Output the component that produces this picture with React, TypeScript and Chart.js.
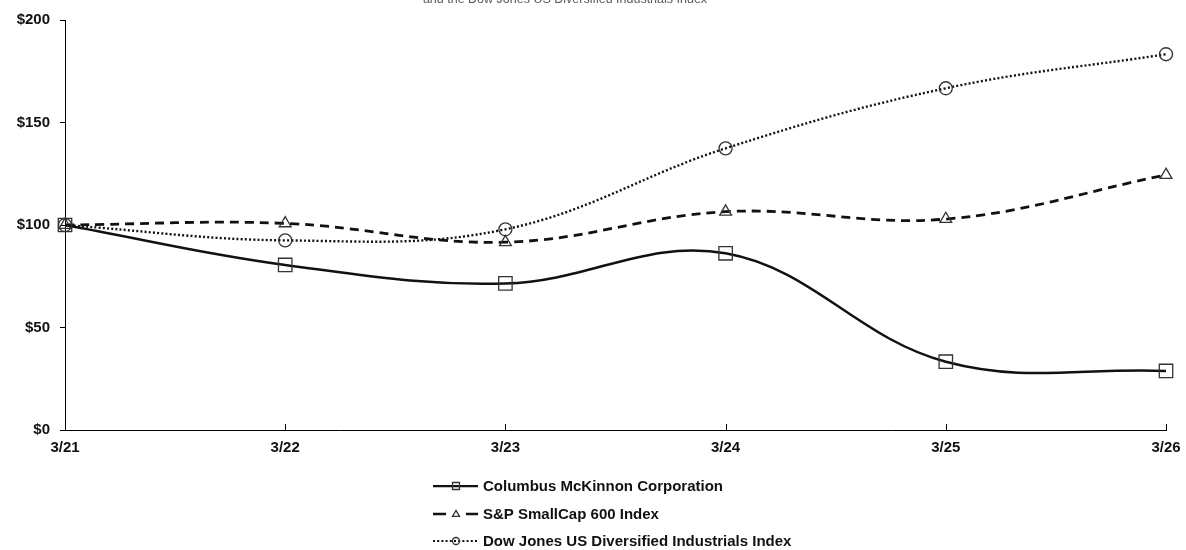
import React, { useEffect, useRef } from "react";
import { Chart, registerables } from "chart.js";

Chart.register(...registerables);

const categories = ["3/21", "3/22", "3/23", "3/24", "3/25", "3/26"];
const cmcoValues = [100, 80.5, 71.5, 86.2, 33.3, 28.8];
const spValues = [100, 100.8, 91.6, 106.5, 102.9, 124.4];
const dowValues = [100, 92.5, 97.9, 137.4, 166.7, 183.3];
const seriesNames = [
  "Columbus McKinnon Corporation",
  "S&P SmallCap 600 Index",
  "Dow Jones US Diversified Industrials Index",
];
const titleText = "and the Dow Jones US Diversified Industrials Index";

const FONT = '"Liberation Sans", Arial, sans-serif';
const LINE = "#111111";
const MARK = "#333333";

type Style = { dash: number[]; width: number; marker: string };
const styles: Style[] = [
  { dash: [], width: 2.5, marker: "rect" },
  { dash: [9, 6], width: 2.8, marker: "triangle" },
  { dash: [2, 2.2], width: 2.4, marker: "circle" },
];

function drawMarker(ctx: CanvasRenderingContext2D, kind: string, x: number, y: number, r: number) {
  ctx.save();
  ctx.setLineDash([]);
  ctx.strokeStyle = MARK;
  ctx.lineWidth = 1.3;
  ctx.beginPath();
  if (kind === "rect") {
    ctx.rect(x - r, y - r, 2 * r, 2 * r);
  } else if (kind === "triangle") {
    const h = r * 1.7;
    ctx.moveTo(x, y - h * 0.6);
    ctx.lineTo(x + r, y + h * 0.4);
    ctx.lineTo(x - r, y + h * 0.4);
    ctx.closePath();
  } else {
    ctx.arc(x, y, r, 0, Math.PI * 2);
  }
  ctx.stroke();
  ctx.restore();
}

const extrasPlugin = {
  id: "extras",
  afterDraw(chart: any) {
    const ctx: CanvasRenderingContext2D = chart.ctx;
    const area = chart.chartArea;
    const xs = chart.scales.x;
    // inward x ticks
    ctx.save();
    ctx.strokeStyle = "#000";
    ctx.lineWidth = 1;
    categories.forEach((_, i) => {
      const x = Math.round(xs.getPixelForValue(i)) + 0.5;
      ctx.beginPath();
      ctx.moveTo(x, area.bottom);
      ctx.lineTo(x, area.bottom - 6);
      ctx.stroke();
    });
    ctx.restore();

    // clipped title
    ctx.save();
    ctx.fillStyle = "#595959";
    ctx.font = `12.5px ${FONT}`;
    ctx.textAlign = "center";
    ctx.textBaseline = "alphabetic";
    ctx.fillText(titleText, 565, 3);
    ctx.restore();

    // legend
    const rows = [486, 514, 541];
    seriesNames.forEach((name, i) => {
      const st = styles[i];
      const y = rows[i];
      ctx.save();
      ctx.strokeStyle = LINE;
      ctx.lineWidth = st.width * 0.9;
      if (i === 1) {
        ctx.beginPath();
        ctx.moveTo(433, y);
        ctx.lineTo(446, y);
        ctx.moveTo(466, y);
        ctx.lineTo(478, y);
        ctx.stroke();
      } else {
        ctx.setLineDash(st.dash);
        ctx.beginPath();
        ctx.moveTo(433, y);
        ctx.lineTo(478, y);
        ctx.stroke();
      }
      ctx.restore();
      drawMarker(ctx, st.marker, 456, y, 3.5);
      ctx.save();
      ctx.fillStyle = "#111";
      ctx.font = `bold 15px ${FONT}`;
      ctx.textAlign = "left";
      ctx.textBaseline = "middle";
      ctx.fillText(name, 483, y + 1);
      ctx.restore();
    });
  },
};

export default function App() {
  const ref = useRef<HTMLCanvasElement | null>(null);
  useEffect(() => {
    if (!ref.current) return;
    const all = [cmcoValues, spValues, dowValues];
    const chart = new Chart(ref.current, {
      type: "line",
      data: {
        labels: categories,
        datasets: all.map((vals, i) => ({
          label: seriesNames[i],
          data: vals,
          borderColor: LINE,
          borderWidth: styles[i].width,
          borderDash: styles[i].dash,
          tension: 0.38,
          fill: false,
          pointStyle: styles[i].marker as any,
          pointRadius: i === 0 ? 9.5 : i === 1 ? 6.8 : 6.5,
          pointBorderColor: MARK,
          pointBorderWidth: 1.3,
          pointBackgroundColor: "rgba(0,0,0,0)",
          clip: false as any,
        })),
      },
      options: {
        animation: false,
        responsive: false,
        maintainAspectRatio: false,
        layout: { padding: { top: 20, right: 20, left: 0, bottom: 0 } },
        plugins: {
          legend: { display: false },
          tooltip: { enabled: false },
          title: { display: false },
        },
        scales: {
          x: {
            type: "category",
            offset: false,
            grid: { display: false, drawTicks: false },
            border: { display: true, color: "#000", width: 1 },
            ticks: {
              color: "#111",
              font: { family: FONT, size: 15, weight: "bold" },
              padding: 9,
              maxRotation: 0,
              autoSkip: false,
            },
            afterFit(scale: any) {
              scale.height = 120;
              scale.paddingLeft = 0;
              scale.paddingRight = 0;
            },
          },
          y: {
            min: 0,
            max: 200,
            grid: { display: true, drawOnChartArea: false, drawTicks: true, tickLength: 5, color: "#000" },
            border: { display: true, color: "#000", width: 1 },
            ticks: {
              stepSize: 50,
              color: "#111",
              font: { family: FONT, size: 15, weight: "bold" },
              padding: 10,
              callback: (v: any) => "$" + v,
            },
            afterFit(scale: any) {
              scale.width = 65;
              scale.paddingTop = 0;
              scale.paddingBottom = 0;
            },
          },
        },
      },
      plugins: [extrasPlugin],
    });
    return () => chart.destroy();
  }, []);
  return (
    <div style={{ position: "absolute", left: 0, top: 0, width: 1186, height: 550, background: "#fff" }}>
      <canvas ref={ref} width={1186} height={550} style={{ width: 1186, height: 550, display: "block" }} />
    </div>
  );
}
